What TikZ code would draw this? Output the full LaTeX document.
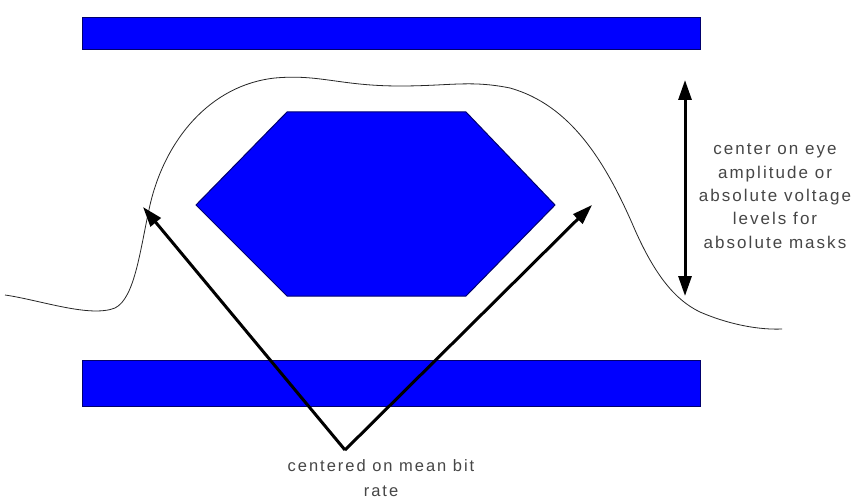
\documentclass[tikz,border=0pt]{standalone}
\usepackage{fontspec}
\setmainfont{Liberation Sans}
\newfontfamily\spacedfont[LetterSpace=12]{Liberation Sans}
\usetikzlibrary{arrows.meta}
\definecolor{barblue}{RGB}{0,0,255}
\definecolor{bardark}{RGB}{0,0,110}
\definecolor{txtgrey}{RGB}{70,70,70}
\tikzset{
  bar/.style={rectangle, fill=barblue, draw=bardark, line width=1pt, minimum width=618pt, inner sep=0pt},
  hexshape/.style={fill=barblue, draw=bardark, line width=1pt},
  bigarrow/.style={line width=3pt, -{Triangle[length=20pt,width=13pt]}},
  dblarrow/.style={line width=3pt, {Triangle[length=20pt,width=13pt]}-{Triangle[length=20pt,width=13pt]}},
  signal/.style={line width=0.8pt, black!85},
  label/.style={text=txtgrey, align=center, inner sep=0pt}
}
\begin{document}
\begin{tikzpicture}[x=1pt,y=-1pt]
\useasboundingbox (0,0) rectangle (853,500);
\fill[white] (0,0) rectangle (853,500);
% bars
\node[bar, minimum height=32pt] (topbar) at (391,34) {};
\node[bar, minimum height=46pt] (botbar) at (391,383) {};
% hexagon
\path[hexshape] (287,112) -- (466,112) -- (555,205) -- (466,296) -- (287,296) -- (196,205) -- cycle;
% signal curve
\draw[signal] (5,295) .. controls (40,300) and (90,318) .. (115,308)
  .. controls (135,298) and (140,250) .. (150,205)
  .. controls (165,140) and (210,85) .. (275,78)
  .. controls (320,74) and (340,86) .. (400,86)
  .. controls (450,86) and (470,80) .. (510,88)
  .. controls (570,105) and (605,160) .. (635,230)
  .. controls (655,275) and (675,300) .. (700,312)
  .. controls (730,325) and (760,330) .. (782,329);
% arrows
\coordinate (apex) at (345,450);
\coordinate (ltip) at (143,207);
\coordinate (rtip) at (592,205);
\draw[bigarrow] (apex) -- (ltip);
\draw[bigarrow] (apex) -- (rtip);
\coordinate (vtop) at (685,80);
\coordinate (vbot) at (685,296);
\draw[dblarrow] (vbot) -- (vtop);
% labels
\node[label, font=\spacedfont\fontsize{17}{23.3}\selectfont] (rlabel) at (775,196) {center on eye\\amplitude or\\absolute voltage\\levels for\\absolute masks};
\node[label, font=\spacedfont\fontsize{16.5}{25}\selectfont] (blabel) at (381,478) {centered on mean bit\\rate};
\end{tikzpicture}
\end{document}
